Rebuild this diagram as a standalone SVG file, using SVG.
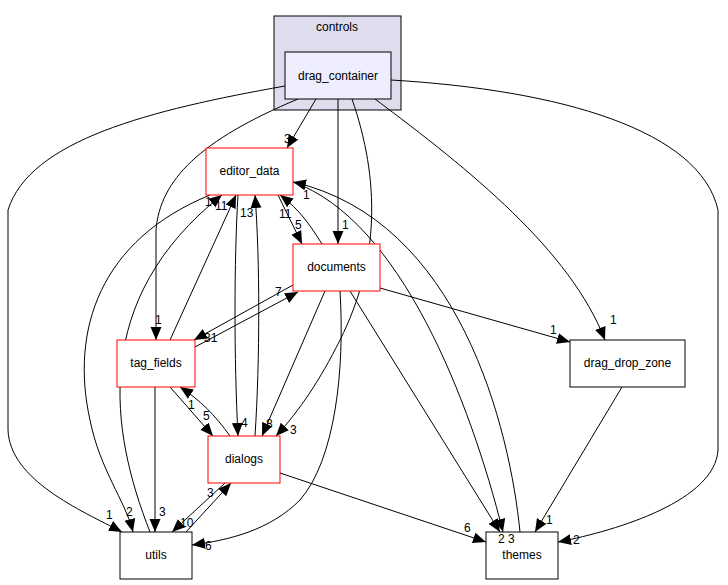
<svg xmlns="http://www.w3.org/2000/svg" width="728" height="585" viewBox="0 0 728 585">
<style>
text{font-family:"Liberation Sans",Arial,sans-serif;font-size:12px;fill:#000}
.n text{text-anchor:middle}
.red{fill:#fff;stroke:#ff0000;stroke-width:1}
.blk{fill:#fff;stroke:#000;stroke-width:1}
#edges path{fill:none;stroke:#000;stroke-width:1;marker-end:url(#ah)}
</style>
<defs><marker id="ah" markerUnits="userSpaceOnUse" markerWidth="14" markerHeight="14" viewBox="0 0 14 14" refX="13" refY="7" orient="auto"><path d="M0,1.5 L13,7 L0,12.5 z" fill="#000"/></marker></defs>
<rect width="728" height="585" fill="#fff"/>
<g id="cluster_controls"><rect x="274" y="16" width="127" height="94" fill="#ddddee" stroke="#000"/><text x="337" y="31" text-anchor="middle">controls</text></g>
<g id="edges">
<path d="M316,99 L287,148"/>
<path d="M338,99 L338,244"/>
<path d="M298,99 C200,140 160,180 156,230 L156,340"/>
<path d="M285,86 C150,110 30,140 8,210 L8,430 C10,480 80,510 122,532"/>
<path d="M352,99 C380,180 380,260 340,340 C320,380 300,410 276,436"/>
<path d="M375,99 C470,170 570,250 605,340"/>
<path d="M391,80 C560,90 700,130 718,210 L718,450 C715,500 620,530 558,542"/>
<path d="M278,195 L302,244"/>
<path d="M322,244 C310,225 300,210 280,195"/>
<path d="M293,182 C400,220 470,400 503,532"/>
<path d="M520,532 C510,430 460,220 293,182"/>
<path d="M170,340 L236,195"/>
<path d="M238,195 C234,260 234,360 238,436"/>
<path d="M255,436 C260,360 260,260 255,195"/>
<path d="M210,195 C100,240 70,330 90,420 C100,470 125,500 133,532"/>
<path d="M150,532 C110,430 90,300 222,195"/>
<path d="M293,285 L194,340"/>
<path d="M195,347 L298,292"/>
<path d="M325,291 L262,436"/>
<path d="M340,291 C345,370 335,460 300,500 C270,530 230,540 192,545"/>
<path d="M380,288 L570,342"/>
<path d="M350,291 L500,532"/>
<path d="M170,387 L213,436"/>
<path d="M230,436 C215,415 200,400 180,387"/>
<path d="M155,387 L155,532"/>
<path d="M225,483 L172,532"/>
<path d="M186,532 L231,483"/>
<path d="M280,473 L486,542"/>
<path d="M622,387 L535,532"/>
</g>
<g id="drag_container" class="n"><rect x="285" y="52" width="106" height="47" fill="#eeeeff" stroke="#000"/><text x="338" y="80">drag_container</text></g>
<g id="editor_data" class="n"><rect x="206" y="148" width="87" height="47" class="red"/><text x="249.5" y="175">editor_data</text></g>
<g id="documents" class="n"><rect x="293" y="244" width="87" height="47" class="red"/><text x="336.5" y="271">documents</text></g>
<g id="tag_fields" class="n"><rect x="117" y="340" width="78" height="47" class="red"/><text x="156" y="367">tag_fields</text></g>
<g id="dialogs" class="n"><rect x="208" y="436" width="72" height="47" class="red"/><text x="244" y="463">dialogs</text></g>
<g id="utils" class="n"><rect x="120" y="532" width="72" height="47" class="blk"/><text x="156" y="559">utils</text></g>
<g id="themes" class="n"><rect x="486" y="532" width="72" height="47" class="blk"/><text x="522" y="559">themes</text></g>
<g id="drag_drop_zone" class="n"><rect x="570" y="340" width="115" height="47" class="blk"/><text x="627.5" y="367">drag_drop_zone</text></g>
<g id="labels">
<text x="284" y="143">3</text>
<text x="342" y="229">1</text>
<text x="155" y="324">1</text>
<text x="106" y="519">1</text>
<text x="290" y="434">3</text>
<text x="610" y="324">1</text>
<text x="573" y="544">2</text>
<text x="295" y="229">5</text>
<text x="279" y="218">11</text>
<text x="303" y="199">1</text>
<text x="498" y="543">2</text>
<text x="508" y="543">3</text>
<text x="205" y="206">1</text>
<text x="215" y="210">11</text>
<text x="241" y="427">4</text>
<text x="240" y="217">13</text>
<text x="126" y="516">2</text>
<text x="204" y="342">31</text>
<text x="275" y="296">7</text>
<text x="266" y="428">8</text>
<text x="205" y="550">6</text>
<text x="550" y="334">1</text>
<text x="188" y="409">1</text>
<text x="203" y="420">5</text>
<text x="159" y="516">3</text>
<text x="180" y="527">10</text>
<text x="207" y="497">3</text>
<text x="464" y="532">6</text>
<text x="546" y="524">1</text>
</g>
</svg>
